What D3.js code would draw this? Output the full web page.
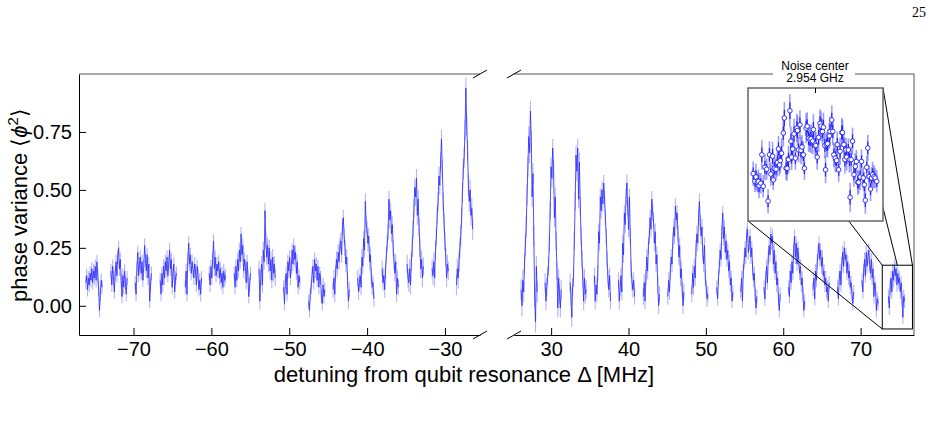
<!DOCTYPE html>
<meta charset="utf-8" />
<style>
  body { margin: 0; background: #fff; }
  svg { font-family: "Liberation Sans", Arial, sans-serif; }
</style>
<body>
<div id="chart"></div>
<script src="https://cdn.jsdelivr.net/npm/d3@7"></script>
<script>
// segment start frequencies (MHz); each sweep covers segSpan MHz
const segSpan = 2.08;
const leftStarts = [-76.12, -72.90, -69.78, -66.57, -63.35, -60.27, -57.06, -53.88,
                    -50.72, -47.51, -44.37, -41.21, -38.07, -34.86, -31.65, -28.52];
const rightStarts = [26.12, 29.22, 32.45, 35.59, 38.70, 41.92, 45.08, 48.18,
                     51.41, 54.51, 57.52, 60.69, 63.85, 67.02, 70.18, 73.60];

const leftValues = [
  [0.10, 0.13, 0.07, 0.12, 0.09, 0.14, 0.11, 0.16, 0.10, 0.15, 0.12, 0.17, 0.11, 0.19, 0.13, 0.07, -0.02, 0.05, 0.11, 0.08],
  [0.15, 0.09, 0.17, 0.12, 0.06, 0.14, 0.19, 0.13, 0.21, 0.25, 0.16, 0.20, 0.11, 0.04, 0.13, 0.08, 0.15, 0.10, 0.05, 0.12],
  [0.10, 0.05, 0.16, 0.23, 0.13, 0.18, 0.21, 0.14, 0.19, 0.11, 0.17, 0.26, 0.20, 0.15, 0.22, 0.12, 0.18, 0.02, 0.09, 0.14],
  [0.11, 0.05, 0.14, 0.09, 0.17, 0.12, 0.19, 0.15, 0.21, 0.13, 0.18, 0.24, 0.16, 0.20, 0.08, 0.14, 0.18, 0.06, 0.12, 0.14],
  [0.08, 0.15, 0.05, 0.20, 0.27, 0.18, 0.22, 0.14, 0.19, 0.16, 0.12, 0.18, 0.15, 0.09, 0.17, 0.13, 0.07, 0.11, 0.05, 0.12],
  [0.14, 0.09, 0.17, 0.12, 0.20, 0.28, 0.16, 0.21, 0.13, 0.18, 0.15, 0.19, 0.12, 0.16, 0.10, 0.14, 0.08, 0.15, 0.11, 0.13],
  [0.14, 0.08, 0.17, 0.11, 0.20, 0.15, 0.24, 0.19, 0.31, 0.22, 0.26, 0.15, 0.20, 0.17, 0.10, 0.19, 0.13, 0.04, 0.09, 0.14],
  [0.16, 0.02, 0.12, 0.18, 0.09, 0.24, 0.19, 0.41, 0.28, 0.21, 0.26, 0.18, 0.25, 0.15, 0.20, 0.11, 0.21, 0.14, 0.18, 0.12],
  [0.08, 0.01, 0.10, 0.14, 0.05, 0.19, 0.15, 0.21, 0.12, 0.17, 0.24, 0.18, 0.26, 0.20, 0.23, 0.14, 0.19, 0.08, 0.13, 0.10],
  [0.02, -0.02, 0.05, 0.08, 0.13, 0.17, 0.10, 0.20, 0.15, 0.18, 0.11, 0.17, 0.08, 0.14, 0.12, 0.04, 0.01, 0.09, 0.04, 0.07],
  [0.07, 0.12, 0.05, 0.14, 0.20, 0.16, 0.23, 0.19, 0.26, 0.28, 0.22, 0.34, 0.38, 0.30, 0.25, 0.18, 0.21, 0.11, 0.02, 0.07],
  [0.12, 0.06, 0.10, 0.13, 0.08, 0.21, 0.17, 0.29, 0.24, 0.45, 0.35, 0.33, 0.27, 0.30, 0.19, 0.22, 0.13, 0.08, 0.10, 0.03],
  [0.16, 0.10, 0.13, 0.07, 0.15, 0.22, 0.27, 0.32, 0.46, 0.37, 0.41, 0.31, 0.35, 0.25, 0.19, 0.14, 0.19, 0.05, 0.12, 0.08],
  [0.18, 0.12, 0.10, 0.16, 0.09, 0.19, 0.25, 0.33, 0.42, 0.51, 0.47, 0.55, 0.39, 0.46, 0.34, 0.25, 0.16, 0.20, 0.12, 0.17],
  [0.16, 0.13, 0.19, 0.12, 0.24, 0.30, 0.39, 0.45, 0.56, 0.52, 0.62, 0.72, 0.59, 0.45, 0.36, 0.28, 0.21, 0.12, 0.18, 0.15],
  [0.09, 0.16, 0.12, 0.19, 0.25, 0.30, 0.38, 0.49, 0.59, 0.64, 0.76, 0.94, 0.78, 0.67, 0.52, 0.45, 0.50, 0.39, 0.42, 0.33]
];

const rightValues = [
  [0.07, 0.00, 0.11, 0.06, 0.18, 0.26, 0.34, 0.48, 0.60, 0.73, 0.66, 0.84, 0.71, 0.47, 0.57, 0.30, 0.04, -0.07, 0.17, 0.06],
  [0.10, 0.02, 0.08, 0.13, 0.17, 0.27, 0.41, 0.60, 0.55, 0.68, 0.59, 0.38, 0.47, 0.28, 0.15, -0.01, 0.12, 0.05, -0.01, 0.07],
  [0.10, 0.04, -0.05, 0.08, 0.12, 0.28, 0.45, 0.65, 0.58, 0.68, 0.46, 0.62, 0.43, 0.30, 0.20, 0.12, 0.02, 0.12, 0.05, 0.07],
  [0.13, 0.02, 0.09, 0.05, 0.14, 0.32, 0.27, 0.47, 0.41, 0.50, 0.44, 0.53, 0.46, 0.38, 0.30, 0.20, 0.12, 0.07, 0.13, 0.02],
  [0.11, 0.02, 0.08, 0.13, 0.06, 0.27, 0.22, 0.40, 0.35, 0.47, 0.53, 0.42, 0.33, 0.47, 0.30, 0.16, 0.10, 0.07, 0.11, 0.04],
  [0.04, 0.10, 0.02, 0.12, 0.21, 0.15, 0.26, 0.30, 0.38, 0.33, 0.46, 0.40, 0.37, 0.27, 0.32, 0.18, 0.22, 0.09, 0.00, 0.05],
  [0.04, 0.11, 0.06, 0.15, 0.21, 0.18, 0.28, 0.34, 0.30, 0.43, 0.37, 0.40, 0.31, 0.21, 0.26, 0.12, 0.16, 0.07, 0.00, 0.06],
  [0.05, 0.14, 0.08, 0.17, 0.12, 0.25, 0.31, 0.27, 0.38, 0.45, 0.36, 0.30, 0.34, 0.23, 0.18, 0.26, 0.12, 0.08, 0.03, 0.05],
  [0.08, 0.03, 0.12, 0.17, 0.24, 0.20, 0.32, 0.40, 0.29, 0.34, 0.23, 0.28, 0.20, 0.24, 0.15, 0.19, 0.09, 0.12, 0.02, 0.06],
  [0.06, 0.12, 0.02, 0.15, 0.19, 0.25, 0.21, 0.31, 0.33, 0.23, 0.27, 0.30, 0.21, 0.25, 0.16, 0.11, 0.14, 0.05, -0.01, 0.04],
  [0.08, 0.03, 0.12, 0.17, 0.10, 0.21, 0.26, 0.22, 0.31, 0.27, 0.30, 0.18, 0.24, 0.14, 0.19, 0.09, 0.12, 0.03, -0.02, 0.05],
  [0.08, 0.04, 0.15, 0.10, 0.19, 0.14, 0.24, 0.30, 0.21, 0.27, 0.18, 0.25, 0.20, 0.14, 0.17, 0.09, 0.12, 0.05, -0.02, 0.02],
  [0.07, 0.12, 0.03, 0.15, 0.11, 0.19, 0.23, 0.27, 0.20, 0.24, 0.17, 0.21, 0.13, 0.15, 0.09, 0.12, 0.06, 0.08, 0.02, 0.10],
  [0.08, 0.03, 0.12, 0.15, 0.09, 0.18, 0.23, 0.17, 0.25, 0.20, 0.22, 0.14, 0.19, 0.12, 0.15, 0.08, 0.10, 0.05, 0.01, 0.06],
  [0.11, 0.06, 0.15, 0.20, 0.13, 0.23, 0.17, 0.21, 0.24, 0.18, 0.14, 0.20, 0.12, 0.16, 0.04, 0.10, 0.07, -0.02, 0.03, 0.01],
  [0.04, -0.01, 0.08, 0.12, 0.06, 0.15, 0.11, 0.17, 0.13, 0.16, 0.09, 0.14, 0.10, 0.12, 0.06, 0.10, 0.03, -0.05, 0.04, 0.02]
];

const leftErr = [0.03, 0.03, 0.03, 0.03, 0.03, 0.03, 0.03, 0.035, 0.03, 0.03, 0.035, 0.035, 0.035, 0.04, 0.04, 0.045];
const rightErr = [0.045, 0.04, 0.04, 0.035, 0.035, 0.035, 0.035, 0.035, 0.03, 0.03, 0.03, 0.03, 0.03, 0.03, 0.03, 0.03];

// zoomed inset: region of the last sweep
const insetXRange = [72.8, 76.7];
const insetYRange = [-0.10, 0.175];
const insetF = [72.95, 73.00, 73.03, 73.07, 73.10, 73.12, 73.17, 73.20, 73.24, 73.29, 73.34, 73.38, 73.42,
  73.46, 73.51, 73.53, 73.56, 73.61, 73.65, 73.68, 73.71, 73.73, 73.77, 73.82, 73.85, 73.90, 73.93,
  73.97, 74.01, 74.04, 74.06, 74.09, 74.13, 74.17, 74.21, 74.23, 74.26, 74.30, 74.33, 74.36, 74.40,
  74.43, 74.48, 74.51, 74.55, 74.59, 74.62, 74.67, 74.69, 74.74, 74.76, 74.80, 74.84, 74.88, 74.91,
  74.95, 74.98, 75.02, 75.04, 75.07, 75.10, 75.15, 75.17, 75.22, 75.25, 75.28, 75.32, 75.36, 75.38,
  75.42, 75.46, 75.51, 75.53, 75.57, 75.60, 75.63, 75.65, 75.70, 75.73, 75.75, 75.78, 75.82, 75.86,
  75.90, 75.93, 75.97, 76.00, 76.04, 76.08, 76.13, 76.16, 76.19, 76.23, 76.26, 76.30, 76.34, 76.37,
  76.40, 76.44, 76.47, 76.52];
const insetV = [-0.002, -0.018, -0.009, -0.020, -0.018, -0.027, -0.022, 0.037, -0.028, 0.011, 0.007, -0.059, 0.037,
  -0.003, 0.034, -0.015, 0.009, 0.007, 0.021, 0.049, 0.016, 0.025, 0.040, 0.082, 0.113, 0.009, 0.009,
  0.027, 0.128, 0.065, 0.032, 0.049, 0.080, 0.030, 0.092, 0.087, 0.047, 0.099, 0.046, 0.053, 0.037,
  0.009, 0.092, 0.096, 0.071, 0.068, 0.070, 0.065, 0.089, 0.059, 0.056, 0.032, 0.073, 0.102, 0.096,
  0.085, 0.094, 0.056, 0.006, 0.058, 0.060, 0.076, 0.085, 0.109, 0.085, 0.037, 0.030, 0.025, 0.058,
  0.006, 0.044, 0.083, 0.083, 0.058, 0.027, 0.047, 0.032, 0.047, 0.027, -0.051, 0.027, 0.065, -0.004,
  0.013, 0.023, -0.020, -0.020, -0.009, 0.023, -0.011, -0.025, -0.057, 0.011, 0.051, -0.008, -0.034, -0.011,
  -0.004, -0.008, -0.011, -0.018];
const insetErr = [0.025, 0.022, 0.028, 0.020, 0.024, 0.026, 0.021, 0.030, 0.023, 0.027, 0.022, 0.025, 0.028,
  0.024, 0.030, 0.021, 0.026, 0.023, 0.029, 0.027, 0.022, 0.025, 0.031, 0.028, 0.033, 0.024, 0.026,
  0.029, 0.034, 0.030, 0.027, 0.025, 0.032, 0.024, 0.029, 0.031, 0.026, 0.030, 0.028, 0.025, 0.027,
  0.024, 0.031, 0.029, 0.028, 0.026, 0.030, 0.027, 0.032, 0.025, 0.028, 0.026, 0.030, 0.029, 0.031,
  0.027, 0.030, 0.026, 0.028, 0.025, 0.029, 0.027, 0.031, 0.030, 0.028, 0.026, 0.029, 0.024, 0.027,
  0.025, 0.028, 0.030, 0.027, 0.026, 0.029, 0.025, 0.028, 0.024, 0.027, 0.030, 0.026, 0.028, 0.025,
  0.027, 0.024, 0.026, 0.023, 0.027, 0.025, 0.022, 0.026, 0.028, 0.024, 0.027, 0.023, 0.025, 0.022,
  0.026, 0.024, 0.021, 0.023];

const leftTicks = [-70, -60, -50, -40, -30];
const rightTicks = [30, 40, 50, 60, 70];
const yTicks = [0, 0.25, 0.5, 0.75];

const svg = d3.select("#chart").append("svg").attr("width", 934).attr("height", 427);
svg.append("rect").attr("width", 934).attr("height", 427).attr("fill", "#fff");

const xL = d3.scaleLinear().domain([-77, -25.5]).range([79, 480]);
const xR = d3.scaleLinear().domain([25.2, 76.9]).range([514, 914]);
const y = d3.scaleLinear().domain([-0.126, 1.0]).range([335, 74]);

const blue = "#3030ff";

const drawPanel = (g, x, starts, segs, errs) => {
  segs.forEach((vals, k) => {
    const step = segSpan / (vals.length - 1);
    const pts = vals.map((v, i) => [starts[k] + i * step, v, errs[k]]);
    g.append("g").selectAll("line").data(pts).enter().append("line")
      .attr("x1", (d) => x(d[0])).attr("x2", (d) => x(d[0]))
      .attr("y1", (d) => y(d[1] - d[2])).attr("y2", (d) => y(d[1] + d[2]))
      .attr("stroke", "#6a6aff").attr("stroke-opacity", 0.5).attr("stroke-width", 1.1);
    g.append("path").datum(pts)
      .attr("d", d3.line().x((d) => x(d[0])).y((d) => y(d[1])))
      .attr("fill", "none").attr("stroke", blue).attr("stroke-opacity", 0.85)
      .attr("stroke-width", 1);
  });
};

drawPanel(svg.append("g"), xL, leftStarts, leftValues, leftErr);
drawPanel(svg.append("g"), xR, rightStarts, rightValues, rightErr);

// axes
const styleAxis = (g) => {
  g.selectAll("text").attr("font-size", 20).attr("fill", "#000")
    .attr("font-family", "'Liberation Sans', Arial, sans-serif");
  g.selectAll("line").attr("stroke", "#000");
  g.select(".domain").attr("stroke", "#000");
};

svg.append("g").attr("transform", "translate(0,335)")
  .call(d3.axisBottom(xL).tickValues(leftTicks).tickSizeInner(-7).tickSizeOuter(0).tickPadding(7))
  .call(styleAxis);
svg.append("g").attr("transform", "translate(0,335)")
  .call(d3.axisBottom(xR).tickValues(rightTicks).tickSizeInner(-7).tickSizeOuter(0).tickPadding(7))
  .call(styleAxis);
svg.append("g").attr("transform", "translate(79,0)")
  .call(d3.axisLeft(y).tickValues(yTicks).tickFormat(d3.format(".2f")).tickSizeInner(-7).tickSizeOuter(0).tickPadding(7))
  .call(styleAxis);

// top / right spines
svg.append("line").attr("x1", 79).attr("x2", 480).attr("y1", 74).attr("y2", 74)
  .attr("stroke", "#555");
svg.append("line").attr("x1", 514).attr("x2", 914).attr("y1", 74).attr("y2", 74)
  .attr("stroke", "#555");
svg.append("line").attr("x1", 914).attr("x2", 914).attr("y1", 74).attr("y2", 335)
  .attr("stroke", "#555");

// break marks
[[480, 74], [480, 335], [514, 74], [514, 335]].forEach(([cx, cy]) => {
  svg.append("line").attr("x1", cx - 7).attr("y1", cy + 4).attr("x2", cx + 7).attr("y2", cy - 4)
    .attr("stroke", "#000").attr("stroke-width", 1);
});

// zoom box and connectors
const bx0 = xR(insetXRange[0]), bx1 = xR(insetXRange[1]);
const by0 = y(insetYRange[1]), by1 = y(insetYRange[0]);
const ins = { x0: 748, y0: 88, x1: 883, y1: 221 };

svg.append("rect").attr("x", bx0).attr("y", by0).attr("width", bx1 - bx0).attr("height", by1 - by0)
  .attr("fill", "none").attr("stroke", "#000").attr("stroke-width", 1);
const connectors = [
  [ins.x0, ins.y0, bx0, by0],
  [ins.x0, ins.y1, bx0, by1],
  [ins.x1, ins.y0, bx1, by0],
  [ins.x1 - 30, ins.y0, (bx0 + bx1) / 2, by0]
];
svg.append("g").selectAll("line").data(connectors).enter().append("line")
  .attr("x1", (d) => d[0]).attr("y1", (d) => d[1]).attr("x2", (d) => d[2]).attr("y2", (d) => d[3])
  .attr("stroke", "#000").attr("stroke-width", 1);

// inset
const ix = d3.scaleLinear().domain(insetXRange).range([ins.x0, ins.x1]);
const iy = d3.scaleLinear().domain(insetYRange).range([ins.y1, ins.y0]);
const gi = svg.append("g");
gi.append("rect").attr("x", ins.x0).attr("y", ins.y0)
  .attr("width", ins.x1 - ins.x0).attr("height", ins.y1 - ins.y0).attr("fill", "#fff");
const ipts = insetF.map((f, i) => [f, insetV[i], insetErr[i]]);
gi.selectAll("line.outer").data(ipts).enter().append("line").attr("class", "outer")
  .attr("x1", (d) => ix(d[0])).attr("x2", (d) => ix(d[0]))
  .attr("y1", (d) => iy(d[1] - d[2])).attr("y2", (d) => iy(d[1] + d[2]))
  .attr("stroke", "#5a5aff").attr("stroke-opacity", 0.6).attr("stroke-width", 1.6);
gi.selectAll("line.inner").data(ipts).enter().append("line").attr("class", "inner")
  .attr("x1", (d) => ix(d[0])).attr("x2", (d) => ix(d[0]))
  .attr("y1", (d) => iy(d[1] - d[2] / 2)).attr("y2", (d) => iy(d[1] + d[2] / 2))
  .attr("stroke", "#2020ff").attr("stroke-width", 1.2);
gi.selectAll("circle").data(ipts).enter().append("circle")
  .attr("cx", (d) => ix(d[0])).attr("cy", (d) => iy(d[1])).attr("r", 2.3)
  .attr("fill", "#fff").attr("stroke", "#2020ff").attr("stroke-width", 0.9);
gi.append("rect").attr("x", ins.x0).attr("y", ins.y0)
  .attr("width", ins.x1 - ins.x0).attr("height", ins.y1 - ins.y0)
  .attr("fill", "none").attr("stroke", "#666").attr("stroke-width", 1.5);
gi.append("line").attr("x1", 815.5).attr("x2", 815.5).attr("y1", ins.y0).attr("y2", ins.y0 + 5)
  .attr("stroke", "#000");

// noise center label
svg.append("rect").attr("x", 773).attr("y", 61).attr("width", 82).attr("height", 21).attr("fill", "#fff");
svg.append("text").attr("x", 815).attr("y", 70).attr("text-anchor", "middle")
  .attr("font-size", 12).text("Noise center");
svg.append("text").attr("x", 815).attr("y", 81.5).attr("text-anchor", "middle")
  .attr("font-size", 12).text("2.954 GHz");

// axis labels
svg.append("text").attr("x", 464).attr("y", 382).attr("text-anchor", "middle")
  .attr("font-size", 22).text("detuning from qubit resonance Δ [MHz]");
const yl = svg.append("text").attr("transform", "translate(27,205) rotate(-90)")
  .attr("text-anchor", "middle").attr("font-size", 22);
yl.append("tspan").text("phase variance ⟨");
yl.append("tspan").attr("font-style", "italic").text("ϕ");
yl.append("tspan").attr("dy", -9).attr("font-size", 15).text("2");
yl.append("tspan").attr("dy", 9).text("⟩");

// page furniture
svg.append("text").attr("x", 926).attr("y", 17).attr("text-anchor", "end")
  .attr("font-family", "'Liberation Serif', 'DejaVu Serif', serif").attr("font-size", 14).text("25");
svg.append("text").attr("x", 466).attr("y", 436).attr("text-anchor", "middle")
  .attr("font-family", "'Liberation Serif', 'DejaVu Serif', serif").attr("font-size", 12).text("⟨ϕ²⟩");
</script>
</body>
